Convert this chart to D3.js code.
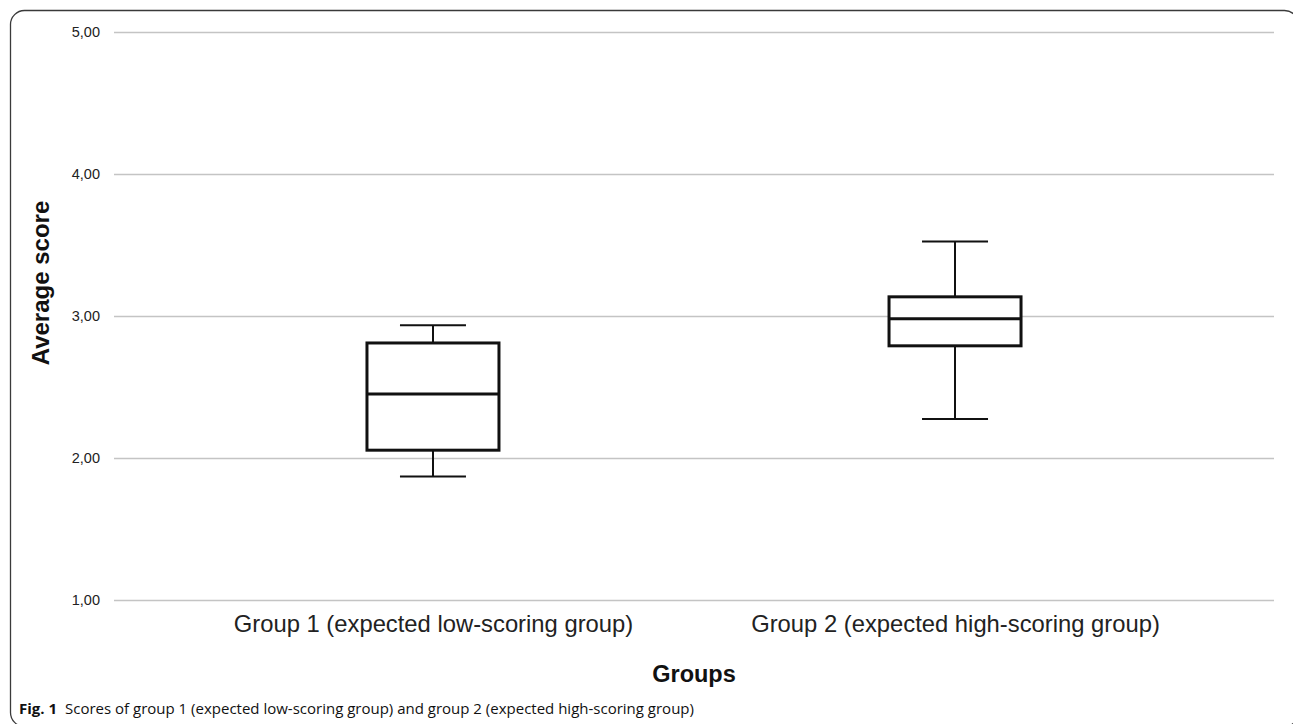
<!DOCTYPE html>
<html><head><meta charset="utf-8">
<script src="https://cdn.jsdelivr.net/npm/d3@7"></script>
<style>
html,body{margin:0;padding:0;background:#fff;overflow:hidden}
svg{display:block}
</style></head>
<body>
<svg id="chart" width="1293" height="724"></svg>
<script>
const categories = ["Group 1 (expected low-scoring group)", "Group 2 (expected high-scoring group)"];
const whiskerLow  = [1.87, 2.275];
const q1          = [2.055, 2.79];
const median      = [2.45, 2.98];
const q3          = [2.81, 3.135];
const whiskerHigh = [2.935, 3.525];
const yTicks = [1, 2, 3, 4, 5];
const yTickLabels = ["1,00", "2,00", "3,00", "4,00", "5,00"];
const yTitle = "Average score";
const xTitle = "Groups";
const captionBold = "Fig. 1";
const captionText = "Scores of group 1 (expected low-scoring group) and group 2 (expected high-scoring group)";

(function () {
const svg = d3.select("#chart");
const mLeft = 114, mRight = 1274, mTop = 32, mBottom = 600;

// frame
svg.append("rect").attr("x", 10.5).attr("y", 10.5).attr("width", 1288).attr("height", 716)
  .attr("rx", 14).attr("fill", "none").attr("stroke", "#3a3a3a").attr("stroke-width", 1.3);

const y = d3.scaleLinear().domain([1, 5]).range([mBottom, mTop]);
const x = d3.scalePoint().domain(categories).range([mLeft, mRight]).padding(0.611);
const boxW = 132, capW = 66;

// gridlines
const yAxis = d3.axisLeft(y).tickValues(yTicks).tickSize(-(mRight - mLeft)).tickPadding(10)
  .tickFormat((d, i) => yTickLabels[i]);
const ga = svg.append("g").attr("transform", `translate(${mLeft},0)`).call(yAxis);
ga.select(".domain").remove();
ga.selectAll(".tick line").attr("stroke", "#c4c4c4").attr("stroke-width", 1.5);
ga.selectAll(".tick text").attr("font-family", "Liberation Sans, Arial, sans-serif")
  .attr("font-size", 14.5).attr("fill", "#222").attr("x", -14);

// x axis labels
const xa = svg.append("g").attr("transform", `translate(0,${mBottom})`)
  .call(d3.axisBottom(x).tickSize(0).tickPadding(0));
xa.select(".domain").remove();
xa.selectAll(".tick text").attr("font-family", "Liberation Sans, Arial, sans-serif")
  .attr("font-size", 23.8).attr("fill", "#222").attr("dy", null).attr("y", 32);

// boxes
const data = categories.map((c, i) => ({c, lo: whiskerLow[i], q1: q1[i], med: median[i], q3: q3[i], hi: whiskerHigh[i]}));
const g = svg.append("g").attr("stroke", "#111").attr("fill", "none");
data.forEach(d => {
  const cx = x(d.c);
  const bg = g.append("g");
  bg.append("line").attr("x1", cx).attr("x2", cx).attr("y1", y(d.hi)).attr("y2", y(d.q3)).attr("stroke-width", 2);
  bg.append("line").attr("x1", cx).attr("x2", cx).attr("y1", y(d.q1)).attr("y2", y(d.lo)).attr("stroke-width", 2);
  bg.append("line").attr("x1", cx - capW/2).attr("x2", cx + capW/2).attr("y1", y(d.hi)).attr("y2", y(d.hi)).attr("stroke-width", 2);
  bg.append("line").attr("x1", cx - capW/2).attr("x2", cx + capW/2).attr("y1", y(d.lo)).attr("y2", y(d.lo)).attr("stroke-width", 2);
  bg.append("rect").attr("x", cx - boxW/2).attr("y", y(d.q3)).attr("width", boxW).attr("height", y(d.q1) - y(d.q3))
    .attr("fill", "#fff").attr("stroke-width", 3);
  bg.append("line").attr("x1", cx - boxW/2).attr("x2", cx + boxW/2).attr("y1", y(d.med)).attr("y2", y(d.med)).attr("stroke-width", 3);
});

// titles
svg.append("text").attr("transform", `translate(49,283) rotate(-90)`)
  .attr("text-anchor", "middle").attr("font-family", "Liberation Sans, Arial, sans-serif")
  .attr("font-weight", "bold").attr("font-size", 24).attr("fill", "#111").text(yTitle);
svg.append("text").attr("x", (mLeft + mRight)/2).attr("y", 682).attr("text-anchor", "middle")
  .attr("font-family", "Liberation Sans, Arial, sans-serif").attr("font-weight", "bold")
  .attr("font-size", 23.5).attr("fill", "#111").text(xTitle);

// caption
const cap = svg.append("text").attr("x", 19).attr("y", 714)
  .attr("font-family", "Open Sans, Noto Sans, sans-serif").attr("font-size", 15).attr("fill", "#111");
cap.append("tspan").attr("font-weight", "bold").text(captionBold);
cap.append("tspan").attr("dx", 8).text(captionText);
})();
</script>
</body></html>
